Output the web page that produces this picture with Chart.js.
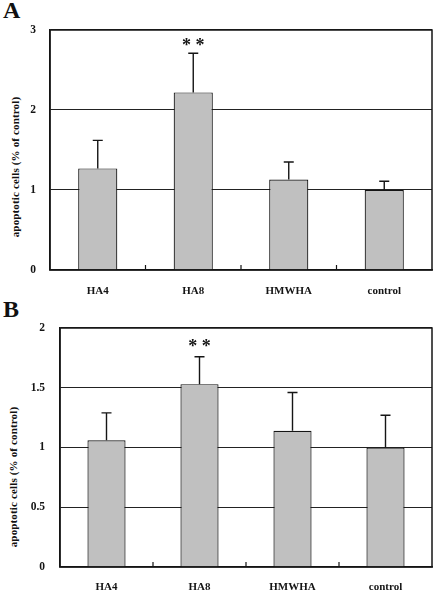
<!DOCTYPE html>
<html>
<head>
<meta charset="utf-8">
<script src="https://cdn.jsdelivr.net/npm/chart.js@4.4.1/dist/chart.umd.min.js"></script>
<style>
    html, body { margin: 0; padding: 0; background: #fff; }
    #wrap { position: relative; width: 433px; height: 591px; overflow: hidden; }
    canvas { position: absolute; left: 0; }
    .panel { position: absolute; left: 3px; font: bold 24px "Liberation Serif", serif; line-height: 24px; color: #111; }
    .ytitle { position: absolute; font: bold 11px "Liberation Serif", serif; letter-spacing: 0.15px; color: #111;
              white-space: nowrap; transform: translate(-50%, -50%) rotate(-90deg); }
</style>
</head>
<body>
<div id="wrap">
    <div class="panel" style="top:-2px">A</div>
    <div class="panel" style="top:297px">B</div>
    <div class="ytitle" style="left:15px;top:167px">apoptotic cells (% of control)</div>
    <div class="ytitle" style="left:13px;top:477px">apoptotic cells (% of control)</div>
    <canvas id="chartA" width="433" height="300" style="top:0px"></canvas>
    <canvas id="chartB" width="433" height="300" style="top:291px"></canvas>
</div>
<script>
// --- data ---
const categories = ['HA4', 'HA8', 'HMWHA', 'control'];

const meanA = [1.27, 2.22, 1.13, 1.00];
const errA = [0.35, 0.49, 0.22, 0.11];
const marksA = ['', '* *', '', ''];
const ticksA = [0, 1, 2, 3];

const meanB = [1.06, 1.53, 1.14, 1.00];
const errB = [0.23, 0.23, 0.32, 0.27];
const marksB = ['', '* *', '', ''];
const ticksB = [0, 0.5, 1, 1.5, 2];

const INK = '#151515';
const BAR_FILL = '#c0c0c0';
const FONT = '"Liberation Serif", "Times New Roman", serif';

// error bars, significance marks, frame and the little category ticks
const decorations = {
    id: 'decorations',
    afterDatasetsDraw(chart, args, opts) {
        const ctx = chart.ctx;
        const area = chart.chartArea;
        const x = chart.scales.x;
        const y = chart.scales.y;
        const meta = chart.getDatasetMeta(0);

        ctx.save();
        ctx.strokeStyle = INK;
        ctx.fillStyle = INK;
        ctx.lineWidth = 1.4;
        meta.data.forEach((bar, i) => {
            const top = y.getPixelForValue(opts.means[i] + opts.errs[i]);
            ctx.beginPath();
            ctx.moveTo(bar.x, bar.y);
            ctx.lineTo(bar.x, top);
            ctx.moveTo(bar.x - 5, top);
            ctx.lineTo(bar.x + 5, top);
            ctx.stroke();
            if (opts.marks[i]) {
                ctx.font = 'bold 18px ' + FONT;
                ctx.textAlign = 'center';
                ctx.textBaseline = 'alphabetic';
                ctx.fillText(opts.marks[i], bar.x, top - opts.markGap);
            }
        });

        // box round the plot
        ctx.lineWidth = 1.5;
        ctx.strokeRect(area.left, area.top, area.right - area.left, area.bottom - area.top);

        // short ticks between categories, pointing up
        ctx.lineWidth = 1.2;
        ctx.beginPath();
        for (let i = 1; i < categories.length; i++) {
            const tx = (x.getPixelForTick(i - 1) + x.getPixelForTick(i)) / 2;
            ctx.moveTo(tx, area.bottom);
            ctx.lineTo(tx, area.bottom - 5);
        }
        ctx.stroke();
        ctx.restore();
    }
};

function makeChart(id, means, errs, marks, ticks, box) {
    const ctx = document.getElementById(id).getContext('2d');
    return new Chart(ctx, {
        type: 'bar',
        data: {
            labels: categories,
            datasets: [{
                data: means,
                backgroundColor: BAR_FILL,
                borderColor: INK,
                borderWidth: 1.2,
                barPercentage: 0.41,
                categoryPercentage: 1.0
            }]
        },
        options: {
            responsive: false,
            animation: false,
            layout: { padding: { top: box.top, right: 1, bottom: 0, left: 0 } },
            plugins: {
                legend: { display: false },
                tooltip: { enabled: false },
                decorations: { means: means, errs: errs, marks: marks, markGap: box.markGap }
            },
            scales: {
                x: {
                    grid: { display: false, drawTicks: false },
                    border: { display: true, color: INK, width: 1.5 },
                    ticks: { color: INK, padding: box.xPad, font: { family: FONT, size: 11, weight: 'bold' } },
                    afterFit: s => { s.height = box.xHeight; }
                },
                y: {
                    min: ticks[0],
                    max: ticks[ticks.length - 1],
                    afterBuildTicks: s => { s.ticks = ticks.map(v => ({ value: v })); },
                    grid: { color: '#222', lineWidth: 1.1, drawTicks: false },
                    border: { display: true, color: INK, width: 1.5 },
                    ticks: {
                        color: INK,
                        padding: box.yPad,
                        font: { family: FONT, size: 11.5, weight: 'bold' },
                        callback: v => String(v)
                    },
                    afterFit: s => { s.width = box.left; }
                }
            }
        },
        plugins: [decorations]
    });
}

makeChart('chartA', meanA, errA, marksA, ticksA,
    { top: 30, left: 50, xHeight: 30, xPad: 15, yPad: 14, markGap: 2 });
makeChart('chartB', meanB, errB, marksB, ticksB,
    { top: 37, left: 60, xHeight: 24, xPad: 14, yPad: 15, markGap: 5 });
</script>
</body>
</html>
